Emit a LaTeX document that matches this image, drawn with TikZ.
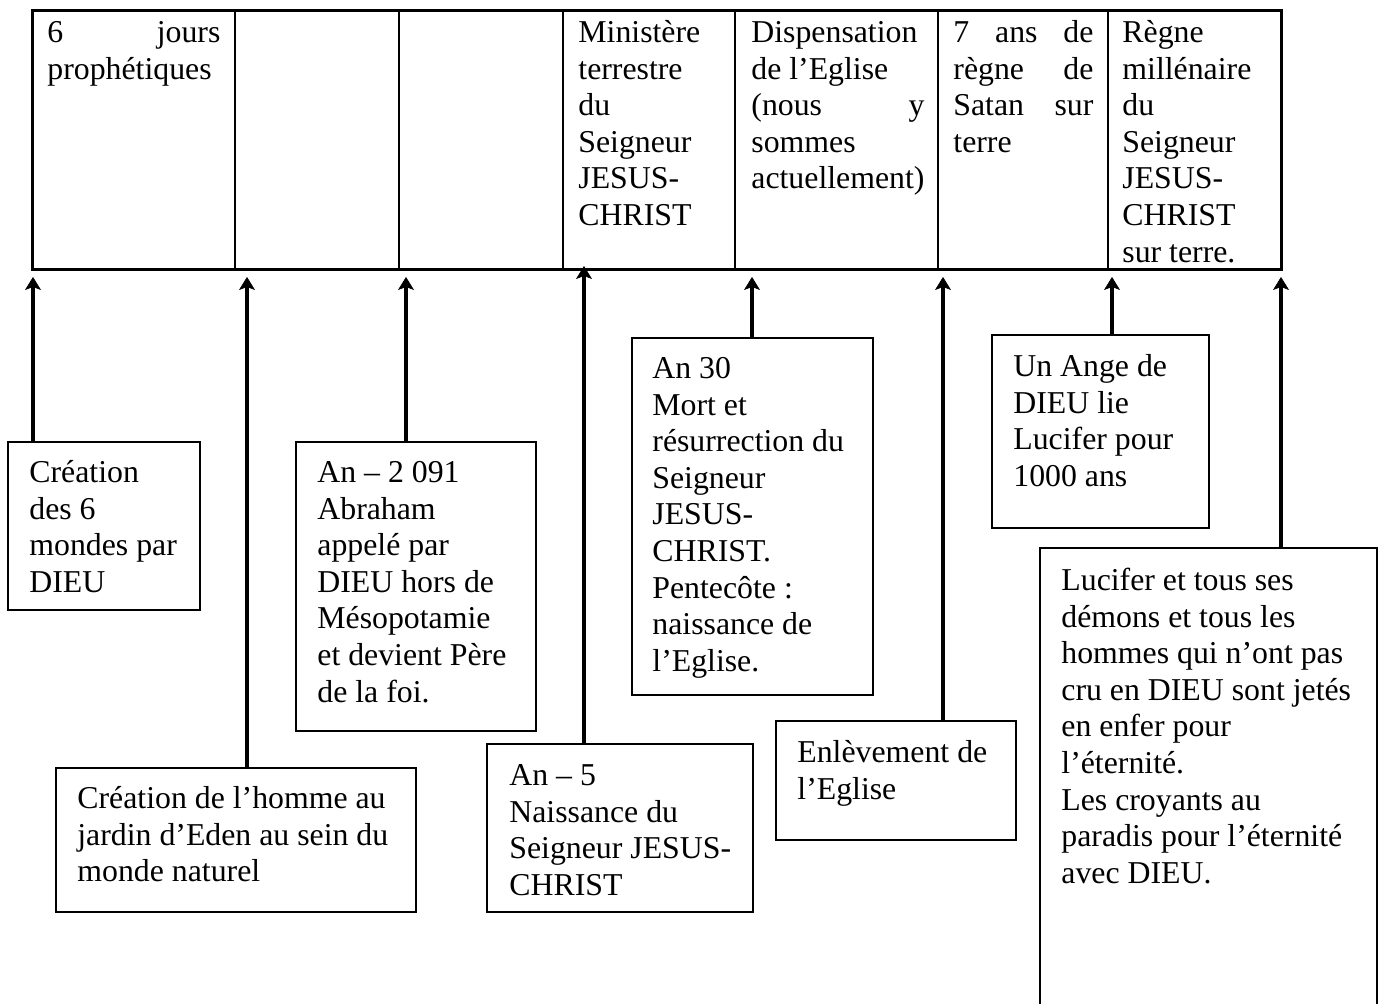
\documentclass[tikz,border=0pt]{standalone}
\usepackage{fontspec}
\setmainfont{Liberation Serif}
\usetikzlibrary{arrows.meta,fit}
\newcommand\jfil{\hskip 0pt plus 1filll\relax}
\begin{document}
\begin{tikzpicture}[x=0.5pt,y=-0.5pt,
  txt/.style={anchor=north west, inner sep=0pt, align=flush left,
    font=\fontsize{15.9pt}{18.3pt}\selectfont, execute at begin node=\strut},
  evbox/.style={draw, line width=0.85pt, inner sep=0pt},
  cell/.style={draw, line width=0.9pt, inner sep=0pt},
  frame/.style={draw, line width=1.35pt, inner sep=0pt},
  arr/.style={line width=1.7pt, -{Stealth[length=6.5pt,width=8pt,inset=1.5pt,line width=0.3pt]}},
]
\useasboundingbox[fill=white] (0,0) rectangle (1384,1004);

% ---- table of periods ----
\node[cell, fit={(33,11) (235,269)}] (c1) {};
\node[cell, fit={(235,11) (399,269)}] (c2) {};
\node[cell, fit={(399,11) (563,269)}] (c3) {};
\node[cell, fit={(563,11) (735,269)}] (c4) {};
\node[cell, fit={(735,11) (938,269)}] (c5) {};
\node[cell, fit={(938,11) (1108,269)}] (c6) {};
\node[cell, fit={(1108,11) (1281,269)}] (c7) {};
\node[frame, fit=(c1)(c7)] (table) {};

\node[txt, text width=86.5pt] (c1t) at (47,16.4) {6\jfil jours\\prophétiques};
\node[txt, text width=71pt] (c4t) at (578,16.4) {Ministère\\terrestre\\du\\Seigneur\\JESUS-\\CHRIST};
\node[txt, text width=86.5pt] (c5t) at (751,16.4) {Dispensation\\de l’Eglise\\(nous\jfil y\\sommes\\actuellement)};
\node[txt, text width=70pt] (c6t) at (953,16.4) {7\jfil ans\jfil de\\règne\jfil de\\Satan\jfil sur\\terre};
\node[txt, text width=72pt] (c7t) at (1122,16.4) {Règne\\millénaire\\du\\Seigneur\\JESUS-\\CHRIST\\sur terre.};

% ---- event boxes ----
\node[evbox, fit={(8,442) (200,610)}] (b1) {};
\node[evbox, fit={(56,768) (416,912)}] (b2) {};
\node[evbox, fit={(296,442) (536,731)}] (b3) {};
\node[evbox, fit={(487,744) (753,912)}] (b4) {};
\node[evbox, fit={(632,338) (873,695)}] (b5) {};
\node[evbox, fit={(776,721) (1016,840)}] (b6) {};
\node[evbox, fit={(992,335) (1209,528)}] (b7) {};
\node[evbox, fit={(1040,548) (1377,1012)}] (b8) {};

\node[txt, text width=85pt] (b1t) at (29,456.4) {Création\\des 6\\mondes par\\DIEU};
\node[txt, text width=170pt] (b2t) at (77,782.4) {Création de l’homme au\\jardin d’Eden au sein du\\monde naturel};
\node[txt, text width=110pt] (b3t) at (317,456.4) {An – 2 091\\Abraham\\appelé par\\DIEU hors de\\Mésopotamie\\et devient Père\\de la foi.};
\node[txt, text width=120pt] (b4t) at (509,759.4) {An – 5\\Naissance du\\Seigneur JESUS-\\CHRIST};
\node[txt, text width=110pt] (b5t) at (652,352.4) {An 30\\Mort et\\résurrection du\\Seigneur\\JESUS-\\CHRIST.\\Pentecôte :\\naissance de\\l’Eglise.};
\node[txt, text width=105pt] (b6t) at (797,736.4) {Enlèvement de\\l’Eglise};
\node[txt, text width=95pt] (b7t) at (1013,350.4) {Un Ange de\\DIEU lie\\Lucifer pour\\1000 ans};
\node[txt, text width=155pt] (b8t) at (1061,564.4) {Lucifer et tous ses\\démons et tous les\\hommes qui n’ont pas\\cru en DIEU sont jetés\\en enfer pour\\l’éternité.\\Les croyants au\\paradis pour l’éternité\\avec DIEU.};

% ---- arrows ----
\coordinate (t1) at (33,277);
\coordinate (t2) at (247,277);
\coordinate (t3) at (406,277);
\coordinate (t4) at (584,266);
\coordinate (t5) at (752,277);
\coordinate (t6) at (943,277);
\coordinate (t7) at (1112,277);
\coordinate (t8) at (1281,277);
\draw[arr] (b1.north -| t1) -- (t1);
\draw[arr] (b2.north -| t2) -- (t2);
\draw[arr] (b3.north -| t3) -- (t3);
\draw[arr] (b4.north -| t4) -- (t4);
\draw[arr] (b5.north -| t5) -- (t5);
\draw[arr] (b6.north -| t6) -- (t6);
\draw[arr] (b7.north -| t7) -- (t7);
\draw[arr] (b8.north -| t8) -- (t8);
\end{tikzpicture}
\end{document}
